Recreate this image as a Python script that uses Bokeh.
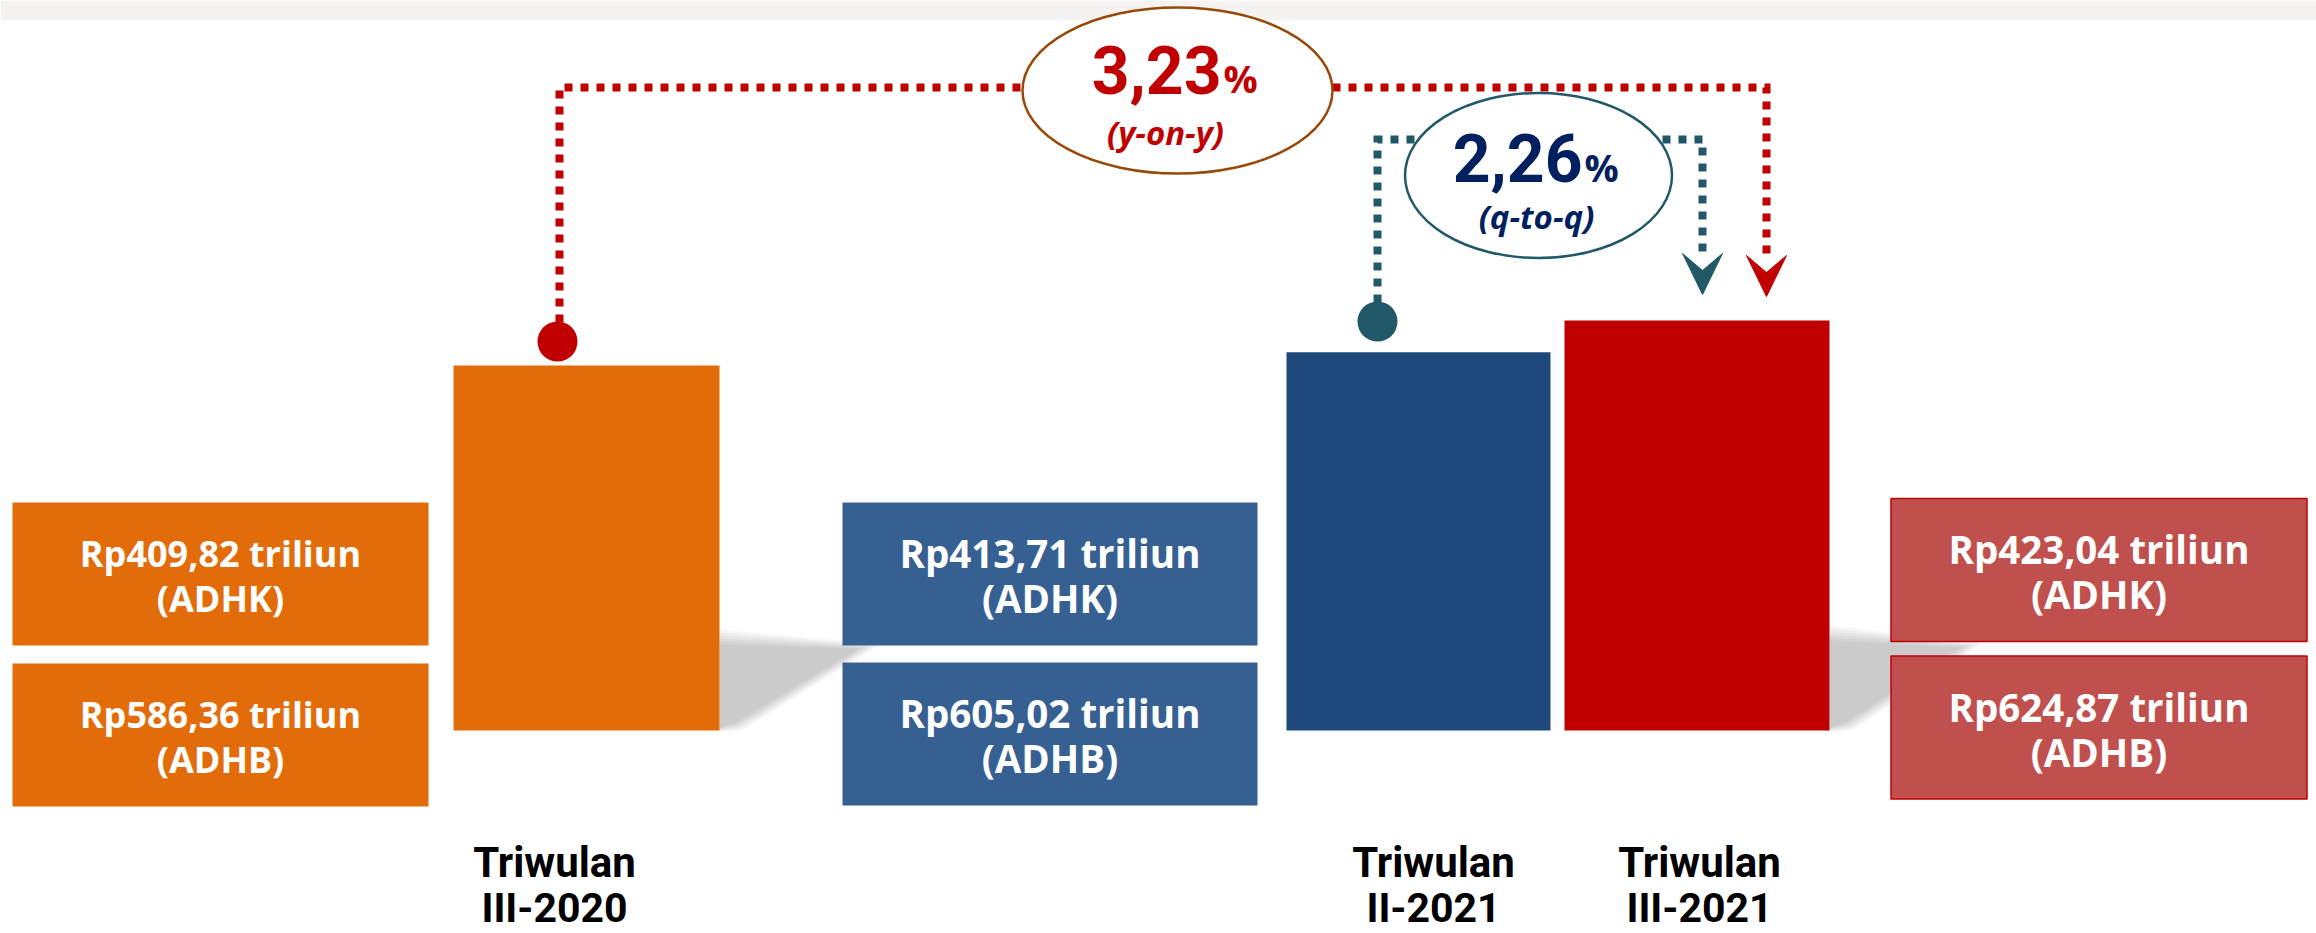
from bokeh.plotting import figure
from bokeh.models import Range1d
from bokeh.core.properties import value
from bokeh.embed import file_html
from bokeh.resources import INLINE

# ---------------- data ----------------
categories_l1 = ["Triwulan", "Triwulan", "Triwulan"]
categories_l2 = ["III-2020", "II-2021", "III-2021"]
adhk = [409.82, 413.71, 423.04]   # Rp triliun, constant prices
adhb = [586.36, 605.02, 624.87]   # Rp triliun, current prices
growth_yoy = 3.23
growth_qtq = 2.26

def rp(v):
    return "Rp" + f"{v:.2f}".replace(".", ",") + " triliun"

def pct(v):
    return f"{v:.2f}".replace(".", ",")

# ---------------- layout (reference pixels) ----------------
BASE, K, BASE_PX = 302.6, 3.404, 730.0   # value scale of the bars
W, H = 2316, 933

bar_x = [586, 1418, 1696.5]
bar_w = [266, 264, 265]
bar_colors = ["#e36c0a", "#1f497d", "#c00000"]
box_colors = ["#e36c0a", "#376092", "#c0504d"]
box_lines = [None, None, "#c00000"]
box_x = [220, 1049.5, 2098.5]
box_w = [416, 415, 416]
box_h = 143
box_y1 = [573.5, 573.5, 569.5]
box_y2 = [734.5, 733.5, 727.0]
label_x = [554, 1433, 1699]

y_lo = BASE - (H - BASE_PX) / K
y_hi = BASE + BASE_PX / K

p = figure(width=W, height=H, x_range=Range1d(0, W),
           y_range=Range1d(y_lo, y_hi), output_backend="svg",
           toolbar_location=None, min_border=0,
           x_axis_type=None, y_axis_type=None)
p.extra_y_ranges = {"px": Range1d(H, 0)}
p.grid.visible = False
p.outline_line_color = None
p.background_fill_color = "white"
p.border_fill_color = "white"

# top light band
p.quad(left=[0], right=[W], top=[0], bottom=[20],
       fill_color="#f4f3f1", line_color=None, y_range_name="px")

# soft shadows (layered)
def shadow(core, n=6):
    for i in range(n):
        d = (n - 1 - i) * 3.0
        (x0, y0), (x1, y1), (x2, y2), (x3, y3) = core
        poly_x = [x0, x1 + d * 1.5, x2 + d * 0.5, x3]
        poly_y = [y0 - d, y1 - d * 0.3, y2 + d * 0.5, y3 + d * 0.3]
        p.patch(poly_x, poly_y, fill_color="black", fill_alpha=0.036,
                line_color=None, y_range_name="px")

shadow([(719, 644), (858, 648), (735, 722), (719, 727)])
shadow([(1829, 640), (1960, 647), (1845, 722), (1829, 727)])

# bars (ADHK values)
p.vbar(x=bar_x, width=bar_w, top=adhk, bottom=BASE,
       fill_color=bar_colors, line_color=None)

# value boxes
for i in range(3):
    p.rect(x=[box_x[i], box_x[i]], y=[box_y1[i], box_y2[i]],
           width=box_w[i], height=box_h, fill_color=box_colors[i],
           line_color=box_lines[i], line_width=1.5, y_range_name="px")

fs_box = ["36px", "38.5px", "38.5px"]
for i in range(3):
    p.text(x=[box_x[i]] * 4,
           y=[box_y1[i] - 21, box_y1[i] + 24, box_y2[i] - 21, box_y2[i] + 24],
           text=[rp(adhk[i]), "(ADHK)", rp(adhb[i]), "(ADHB)"],
           text_font=value("Open Sans"), text_font_style="bold",
           text_font_size=value(fs_box[i]), text_color="white",
           text_align="center", text_baseline="middle", y_range_name="px")

# category labels
p.text(x=label_x, y=[862] * 3, text=categories_l1, text_font=value("Roboto"),
       text_font_style="bold", text_font_size=value("42px"), text_color="black",
       text_align="center", text_baseline="middle", y_range_name="px")
p.text(x=label_x, y=[907] * 3, text=categories_l2, text_font=value("Roboto"),
       text_font_style="bold", text_font_size=value("41px"), text_color="black",
       text_align="center", text_baseline="middle", y_range_name="px")

# dotted connectors
RED, TEAL = "#c00000", "#215968"
p.line([559, 559, 1766, 1766], [322, 87, 87, 260], line_color=RED, line_width=8,
       line_dash="8 8", line_cap="butt", line_join="miter", y_range_name="px")
p.line([1377, 1377, 1702, 1702], [302, 139, 139, 258], line_color=TEAL, line_width=8,
       line_dash="8 8", line_cap="butt", line_join="miter", y_range_name="px")

p.scatter(x=[557], y=[341], size=40, marker="circle", fill_color=RED,
          line_color=None, y_range_name="px")
p.scatter(x=[1377], y=[321], size=40, marker="circle", fill_color=TEAL,
          line_color=None, y_range_name="px")

# arrow heads (filled chevrons): tip x, tip y
def chevron(tx, ty, color):
    p.patch([tx, tx - 20, tx, tx + 20], [ty, ty - 41, ty - 24, ty - 41],
            fill_color=color, line_color=color, line_width=1, y_range_name="px")

chevron(1766, 296, RED)
chevron(1702, 294, TEAL)

# ellipses
p.ellipse(x=[1177], y=[90], width=310, height=166, fill_color="white",
          line_color="#984807", line_width=2.5, y_range_name="px")
p.ellipse(x=[1538], y=[175], width=267, height=165, fill_color="white",
          line_color=TEAL, line_width=2.5, y_range_name="px")

# growth texts
p.text(x=[1221], y=[69], text=[pct(growth_yoy)], text_font=value("Roboto"),
       text_font_style="bold", text_font_size=value("66px"), text_color=RED,
       text_align="right", text_baseline="middle", y_range_name="px")
p.text(x=[1223], y=[77], text=["%"], text_font=value("Open Sans"),
       text_font_style="bold", text_font_size=value("38px"), text_color=RED,
       text_align="left", text_baseline="middle", y_range_name="px")
p.text(x=[1165], y=[132], text=["(y-on-y)"], text_font=value("Open Sans"),
       text_font_style="bold italic", text_font_size=value("33px"), text_color=RED,
       text_align="center", text_baseline="middle", y_range_name="px")

NAVY = "#002060"
p.text(x=[1582], y=[157], text=[pct(growth_qtq)], text_font=value("Roboto"),
       text_font_style="bold", text_font_size=value("66px"), text_color=NAVY,
       text_align="right", text_baseline="middle", y_range_name="px")
p.text(x=[1584], y=[166], text=["%"], text_font=value("Open Sans"),
       text_font_style="bold", text_font_size=value("38px"), text_color=NAVY,
       text_align="left", text_baseline="middle", y_range_name="px")
p.text(x=[1536], y=[216], text=["(q-to-q)"], text_font=value("Open Sans"),
       text_font_style="bold italic", text_font_size=value("33px"), text_color=NAVY,
       text_align="center", text_baseline="middle", y_range_name="px")

open("out.html", "w").write(file_html(p, INLINE))
